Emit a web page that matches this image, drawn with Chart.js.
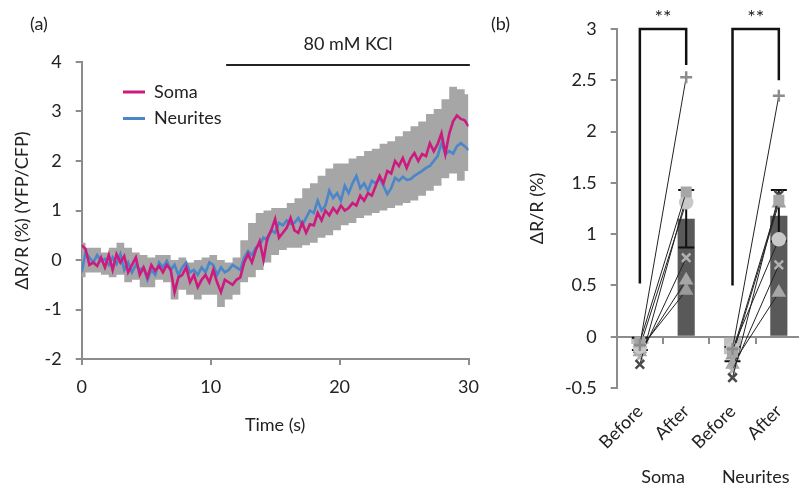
<!DOCTYPE html>
<html><head><meta charset="utf-8">
<script src="https://cdn.jsdelivr.net/npm/chart.js@4/dist/chart.umd.min.js"></script>
<style>
html,body{margin:0;padding:0;background:#fff;}
#wrap{position:relative;width:799px;height:485px;overflow:hidden;background:#fff;}
#ca{position:absolute;left:0;top:0;}
#cb{position:absolute;left:480px;top:0;}
</style></head><body>
<div id="wrap"><canvas id="ca" width="490" height="485"></canvas><canvas id="cb" width="422" height="485"></canvas></div>
<script>
// ---------- Panel (a) data ----------
const timeS = [0,0.3,0.6,0.9,1.2,1.5,1.8,2.1,2.4,2.7,
3,3.3,3.6,3.9,4.2,4.5,4.8,5.1,5.4,5.7,
6,6.3,6.6,6.9,7.2,7.5,7.8,8.1,8.4,8.7,
9,9.3,9.6,9.9,10.2,10.5,10.8,11.1,11.4,11.7,
12,12.3,12.6,12.9,13.2,13.5,13.8,14.1,14.4,14.7,
15,15.3,15.6,15.9,16.2,16.5,16.8,17.1,17.4,17.7,
18,18.3,18.6,18.9,19.2,19.5,19.8,20.1,20.4,20.7,
21,21.3,21.6,21.9,22.2,22.5,22.8,23.1,23.4,23.7,
24,24.3,24.6,24.9,25.2,25.5,25.8,26.1,26.4,26.7,
27,27.3,27.6,27.9,28.2,28.5,28.8,29.1,29.4,29.7,
30];
const somaTrace = [0.30,0.22,-0.10,-0.05,-0.12,0.05,-0.15,0.10,-0.20,0.12,
-0.05,0.08,-0.25,-0.10,0.05,-0.30,-0.15,-0.35,-0.10,-0.22,
-0.12,-0.25,-0.10,-0.20,-0.65,-0.35,-0.30,-0.15,-0.45,-0.30,
-0.55,-0.40,-0.30,-0.45,-0.20,-0.45,-0.65,-0.40,-0.45,-0.50,
-0.40,-0.35,-0.05,0.12,-0.05,0.20,0.38,0.00,0.45,0.60,
0.83,0.45,0.55,0.65,0.85,0.60,0.55,0.75,0.55,0.72,
0.70,0.95,0.80,1.00,0.90,1.05,0.95,1.10,1.00,1.05,
1.15,1.10,1.30,1.20,1.35,1.30,1.50,1.70,1.55,1.80,
1.75,2.00,1.90,2.06,1.86,2.05,2.16,2.00,2.14,2.10,
2.36,2.20,2.34,2.56,2.14,2.55,2.80,2.92,2.85,2.82,
2.70];
const neuriteTrace = [-0.25,0.15,0.05,-0.05,0.10,-0.02,0.02,-0.10,0.05,-0.08,
0.12,-0.20,-0.05,-0.25,-0.10,-0.20,-0.15,-0.40,-0.20,-0.30,
-0.05,-0.15,-0.02,-0.20,-0.10,-0.30,-0.15,-0.05,-0.25,-0.20,
-0.30,-0.15,-0.25,-0.05,-0.10,-0.30,-0.15,-0.25,-0.20,-0.10,
-0.15,-0.20,0.05,0.18,0.10,0.25,0.30,0.45,0.40,0.60,
0.55,0.75,0.70,0.80,0.73,0.75,0.85,0.70,0.85,1.00,
0.95,1.20,1.00,1.10,1.40,1.25,1.35,1.20,1.50,1.35,
1.55,1.70,1.45,1.55,1.40,1.60,1.55,1.65,1.50,1.33,
1.45,1.66,1.60,1.68,1.62,1.63,1.70,1.75,1.80,1.86,
1.90,2.00,2.10,2.36,2.14,2.20,2.15,2.30,2.36,2.30,
2.22];
const bandTimeS = [0,0.6,1.2,1.8,2.4,3,3.6,4.2,4.8,5.4,6,6.6,7.2,7.8,8.4,9,9.6,10.2,10.8,11.4,
12,12.6,13.2,13.8,14.4,15,15.6,16.2,16.8,17.4,18,18.6,19.2,19.8,20.4,21,21.6,22.2,22.8,23.4,
24,24.6,25.2,25.8,26.4,27,27.6,28.2,28.8,29.4,30];
const bandUpper = [0.35,0.25,0.25,0.15,0.25,0.35,0.25,0.15,0.10,0.05,0.10,0.10,0.00,0.05,-0.05,0.00,0.05,0.10,0.00,-0.05,
0.05,0.40,0.75,0.95,1.00,1.05,1.05,1.15,1.25,1.45,1.55,1.70,1.85,1.95,1.95,2.05,2.10,2.20,2.25,2.35,
2.40,2.50,2.60,2.70,2.80,2.95,3.05,3.25,3.50,3.45,3.35];
const bandLower = [-0.35,-0.25,-0.25,-0.30,-0.35,-0.30,-0.45,-0.40,-0.55,-0.55,-0.40,-0.45,-0.80,-0.60,-0.70,-0.80,-0.70,-0.70,-0.95,-0.80,
-0.70,-0.45,-0.35,-0.20,-0.05,0.10,0.20,0.25,0.25,0.30,0.35,0.45,0.50,0.60,0.70,0.75,0.85,0.90,0.95,1.00,
1.05,1.10,1.15,1.20,1.30,1.40,1.50,1.65,1.75,1.60,1.80];
const seriesNames = ['Soma','Neurites'];
const stimulusLabel = '80 mM KCl';
const stimulusStartS = 11.2, stimulusEndS = 30.1, stimulusBarY = 3.94;
const panelLabels = ['(a)','(b)'];

// ---------- Panel (b) data ----------
const conditionCats = ['Before','After','Before','After'];
const groupCats = ['Soma','Neurites'];
const meanDR = [-0.07, 1.15, -0.17, 1.18];
const semDR = [0.06, 0.28, 0.07, 0.25];
const somaBefore = [-0.08,-0.05,-0.10,-0.27,-0.20,-0.15,-0.12];
const somaAfter = [2.53,1.41,1.31,1.36,0.77,0.55,0.45];
const neuriteBefore = [-0.12,-0.15,-0.12,-0.40,-0.33,-0.27,-0.18];
const neuriteAfter = [2.35,1.33,0.95,1.38,0.70,0.43,1.30];
const sigLeftIdx = [0,2], sigRightIdx = [1,3];
const sigTop = [3,3], sigLeftLow = [0.52,0.50], sigRightLow = [2.65,2.50];
const sigText = ['**','**'];

// ---------- styles ----------
const FONT = 'Lato';
Chart.defaults.font.family = FONT;
Chart.defaults.font.size = 18;
Chart.defaults.color = '#222';
const axisGray = '#8c8c8c';
const txt = '#222';
const subjMarker = ['cross','rect','circle','crossRot','crossRot','triangle','triangle'];
const subjColor = ['#8c8c8c','#a6a6a6','#c8c8c8','#4a4a4a','#b0b0b0','#a6a6a6','#9a9a9a'];
const barColors = ['#bfbfbf','#595959','#bfbfbf','#595959'];

function axisCommon(){
  return {
    grid:{drawOnChartArea:false, drawTicks:true, tickLength:6, color:axisGray, lineWidth:2},
    border:{display:true, color:axisGray, width:2}
  };
}

// ---------- Panel (a) ----------
const annotA = {
  id:'annotA',
  afterDraw(chart){
    const {ctx} = chart; const x = chart.scales.x, y = chart.scales.y;
    ctx.save();
    ctx.fillStyle = txt; ctx.font = '18px ' + FONT;
    ctx.textBaseline = 'middle'; ctx.textAlign = 'left';
    ctx.fillText(panelLabels[0], 30, 24);
    const x0 = x.getPixelForValue(stimulusStartS), x1 = x.getPixelForValue(stimulusEndS);
    const yb = y.getPixelForValue(stimulusBarY);
    ctx.strokeStyle = '#222'; ctx.lineWidth = 2;
    ctx.beginPath(); ctx.moveTo(x0, yb); ctx.lineTo(x1, yb); ctx.stroke();
    ctx.textAlign = 'center';
    ctx.fillText(stimulusLabel, (x0 + x1) / 2, yb - 21);
    chart.data.datasets.slice(0, 2).forEach((ds, i) => {
      const yy = 92 + i * 26.5;
      ctx.strokeStyle = ds.borderColor; ctx.lineWidth = 3;
      ctx.beginPath(); ctx.moveTo(123, yy); ctx.lineTo(145, yy); ctx.stroke();
      ctx.textAlign = 'left'; ctx.fillStyle = txt;
      ctx.fillText(ds.label, 154, yy);
    });
    ctx.restore();
  }
};

new Chart(document.getElementById('ca'), {
  type:'line',
  data:{datasets:[
    {label:seriesNames[0], data:timeS.map((t,i)=>({x:t,y:somaTrace[i]})), borderColor:'#cc1a7e', borderWidth:2.6, pointRadius:0, tension:0, order:1},
    {label:seriesNames[1], data:timeS.map((t,i)=>({x:t,y:neuriteTrace[i]})), borderColor:'#4a86c8', borderWidth:2.6, pointRadius:0, tension:0, order:2},
    {label:'upper', data:bandTimeS.map((t,i)=>({x:t,y:bandUpper[i]})), borderColor:'rgba(0,0,0,0)', borderWidth:0, pointRadius:0, stepped:'middle', fill:false, order:3},
    {label:'lower', data:bandTimeS.map((t,i)=>({x:t,y:bandLower[i]})), borderColor:'rgba(0,0,0,0)', borderWidth:0, pointRadius:0, stepped:'middle', fill:'-1', backgroundColor:'#a6a6a6', order:3}
  ]},
  options:{
    responsive:false, animation:false, devicePixelRatio:1,
    layout:{padding:{left:0, top:62, right:0, bottom:46}},
    plugins:{legend:{display:false}, tooltip:{enabled:false}},
    scales:{
      x:Object.assign(axisCommon(), {type:'linear', min:0, max:30,
        ticks:{stepSize:10, padding:11, color:txt},
        title:{display:true, text:'Time (s)', color:txt, padding:{top:0,bottom:3}},
        afterFit:s=>{s.height=80;}}),
      y:Object.assign(axisCommon(), {type:'linear', min:-2, max:4,
        ticks:{stepSize:1, padding:14, color:txt, callback:v=>String(v)},
        title:{display:true, text:'ΔR/R (%) (YFP/CFP)', color:txt, padding:{top:11,bottom:0}},
        afterFit:s=>{s.width=81.7;}})
    }
  },
  plugins:[annotA]
});

// ---------- Panel (b) ----------
const errPlugin = {
  id:'errBars',
  afterDatasetDraw(chart, args){
    if (args.index !== 0) return;
    const {ctx} = chart; const y = chart.scales.y;
    const meta = chart.getDatasetMeta(0);
    ctx.save(); ctx.strokeStyle = '#111'; ctx.lineWidth = 2;
    meta.data.forEach((bar, i) => {
      const cx = bar.x;
      const yt = y.getPixelForValue(meanDR[i] + semDR[i]);
      const ybt = y.getPixelForValue(meanDR[i] - semDR[i]);
      ctx.beginPath();
      ctx.moveTo(cx, yt); ctx.lineTo(cx, ybt);
      ctx.moveTo(cx - 8, yt); ctx.lineTo(cx + 8, yt);
      ctx.moveTo(cx - 8, ybt); ctx.lineTo(cx + 8, ybt);
      ctx.stroke();
    });
    ctx.restore();
  }
};
const annotB = {
  id:'annotB',
  afterDraw(chart){
    const {ctx} = chart; const x = chart.scales.x, y = chart.scales.y;
    ctx.save();
    ctx.fillStyle = txt; ctx.font = '18px ' + FONT;
    ctx.textBaseline = 'middle'; ctx.textAlign = 'left';
    ctx.fillText(panelLabels[1], 11, 24);
    ctx.strokeStyle = '#111'; ctx.lineWidth = 2.5;
    sigLeftIdx.forEach((li, k) => {
      const xl = x.getPixelForTick(li), xr = x.getPixelForTick(sigRightIdx[k]);
      const yt = y.getPixelForValue(sigTop[k]);
      ctx.beginPath();
      ctx.moveTo(xl, y.getPixelForValue(sigLeftLow[k])); ctx.lineTo(xl, yt);
      ctx.lineTo(xr, yt); ctx.lineTo(xr, y.getPixelForValue(sigRightLow[k]));
      ctx.stroke();
      ctx.textAlign = 'center';
      ctx.font = '20px ' + FONT;
      ctx.fillText(sigText[k], (xl + xr) / 2, yt - 11);
    });
    ctx.restore();
  }
};

const subjectSets = somaBefore.map((v, i) => ({
  type:'line', label:'cell ' + (i + 1), xAxisID:'x', yAxisID:'y',
  data:[somaBefore[i], somaAfter[i], neuriteBefore[i], neuriteAfter[i]],
  borderColor:'#222', borderWidth:1, tension:0,
  segment:{borderColor: c => c.p0DataIndex === 1 ? 'rgba(0,0,0,0)' : '#222'},
  pointStyle:subjMarker[i], pointRadius:6,
  pointBackgroundColor:subjColor[i], pointBorderColor:subjColor[i], pointBorderWidth:2.5,
  order:1
}));

new Chart(document.getElementById('cb'), {
  type:'bar',
  data:{labels:conditionCats, datasets:[
    {type:'bar', label:'mean', data:meanDR, backgroundColor:barColors, categoryPercentage:1, barPercentage:0.37, xAxisID:'x', yAxisID:'y', order:5},
    ...subjectSets
  ]},
  options:{
    responsive:false, animation:false, devicePixelRatio:1,
    layout:{padding:{left:0, top:29, right:100, bottom:0}},
    plugins:{legend:{display:false}, tooltip:{enabled:false}},
    scales:{
      x:Object.assign(axisCommon(), {type:'category', position:{y:0}, offset:true,
        grid:{drawOnChartArea:false, drawTicks:true, tickLength:6, color:axisGray, lineWidth:2, offset:true},
        ticks:{minRotation:45, maxRotation:45, padding:58, autoSkip:false, color:txt}}),
      x2:{type:'category', axis:'x', labels:groupCats, position:'bottom', offset:true,
        grid:{display:false, drawTicks:false}, border:{display:false},
        ticks:{padding:78, color:txt}, afterFit:s=>{s.height=97;}},
      y:Object.assign(axisCommon(), {type:'linear', min:-0.5, max:3,
        ticks:{stepSize:0.5, padding:14, color:txt, callback:v=>String(v)},
        title:{display:true, text:'ΔR/R (%)', color:txt, padding:{top:46,bottom:0}},
        afterFit:s=>{s.width=136.7;}})
    }
  },
  plugins:[errPlugin, annotB]
});
</script>
</body></html>
